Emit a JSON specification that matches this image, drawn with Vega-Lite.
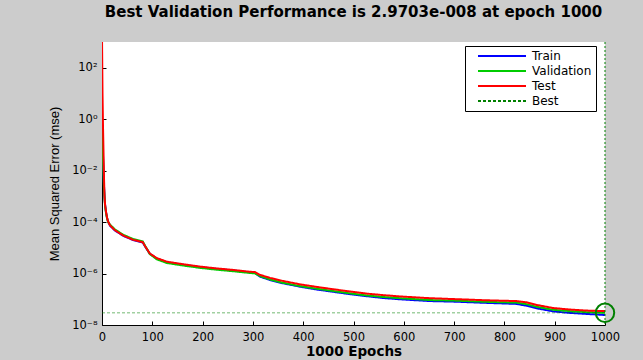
{
  "$schema": "https://vega.github.io/schema/vega-lite/v6.json",
  "autosize": {"type": "none"},
  "padding": {"left": 102, "top": 42, "right": 38, "bottom": 35},
  "width": 503,
  "height": 283,
  "background": "#cccccc",
  "title": {
    "text": "Best Validation Performance is 2.9703e-008 at epoch 1000",
    "font": "DejaVu Sans", "fontSize": 15, "fontWeight": "bold", "color": "#000000",
    "anchor": "middle", "baseline": "alphabetic", "offset": 10, "frame": "group"
  },
  "config": {
    "view": {"fill": "white", "stroke": null},
    "legend": {
      "title": null, "orient": "none", "legendX": 363, "legendY": 4,
      "fillColor": "white", "strokeColor": "black", "padding": 4,
      "symbolType": "M1,0L17,0", "symbolSize": 36, "symbolStrokeWidth": 2,
      "labelOffset": 51, "labelFont": "DejaVu Sans", "labelFontSize": 12,
      "labelColor": "black", "rowPadding": 3
    }
  },
  "datasets": {
    "curves": [
      {"epoch": 0, "mse": 1.12, "series": "Train"},
      {"epoch": 1, "mse": 0.158, "series": "Train"},
      {"epoch": 2, "mse": 0.0398, "series": "Train"},
      {"epoch": 3, "mse": 0.01, "series": "Train"},
      {"epoch": 4, "mse": 0.00251, "series": "Train"},
      {"epoch": 5, "mse": 0.001, "series": "Train"},
      {"epoch": 6, "mse": 5.01e-4, "series": "Train"},
      {"epoch": 8, "mse": 2.40e-4, "series": "Train"},
      {"epoch": 10, "mse": 1.48e-4, "series": "Train"},
      {"epoch": 12, "mse": 1.05e-4, "series": "Train"},
      {"epoch": 16, "mse": 7.24e-5, "series": "Train"},
      {"epoch": 26, "mse": 4.68e-5, "series": "Train"},
      {"epoch": 42, "mse": 2.95e-5, "series": "Train"},
      {"epoch": 62, "mse": 2.00e-5, "series": "Train"},
      {"epoch": 81, "mse": 1.62e-5, "series": "Train"},
      {"epoch": 86, "mse": 1.10e-5, "series": "Train"},
      {"epoch": 95, "mse": 5.89e-6, "series": "Train"},
      {"epoch": 109, "mse": 3.80e-6, "series": "Train"},
      {"epoch": 129, "mse": 2.75e-6, "series": "Train"},
      {"epoch": 162, "mse": 2.19e-6, "series": "Train"},
      {"epoch": 195, "mse": 1.78e-6, "series": "Train"},
      {"epoch": 228, "mse": 1.51e-6, "series": "Train"},
      {"epoch": 261, "mse": 1.32e-6, "series": "Train"},
      {"epoch": 294, "mse": 1.12e-6, "series": "Train"},
      {"epoch": 304, "mse": 1.07e-6, "series": "Train"},
      {"epoch": 314, "mse": 7.59e-7, "series": "Train"},
      {"epoch": 334, "mse": 5.62e-7, "series": "Train"},
      {"epoch": 360, "mse": 4.17e-7, "series": "Train"},
      {"epoch": 394, "mse": 3.09e-7, "series": "Train"},
      {"epoch": 427, "mse": 2.40e-7, "series": "Train"},
      {"epoch": 460, "mse": 1.95e-7, "series": "Train"},
      {"epoch": 493, "mse": 1.58e-7, "series": "Train"},
      {"epoch": 526, "mse": 1.32e-7, "series": "Train"},
      {"epoch": 559, "mse": 1.12e-7, "series": "Train"},
      {"epoch": 592, "mse": 1.00e-7, "series": "Train"},
      {"epoch": 652, "mse": 8.51e-8, "series": "Train"},
      {"epoch": 698, "mse": 8.13e-8, "series": "Train"},
      {"epoch": 765, "mse": 7.24e-8, "series": "Train"},
      {"epoch": 824, "mse": 6.61e-8, "series": "Train"},
      {"epoch": 844, "mse": 5.62e-8, "series": "Train"},
      {"epoch": 864, "mse": 4.47e-8, "series": "Train"},
      {"epoch": 897, "mse": 3.39e-8, "series": "Train"},
      {"epoch": 930, "mse": 2.95e-8, "series": "Train"},
      {"epoch": 964, "mse": 2.69e-8, "series": "Train"},
      {"epoch": 1000, "mse": 2.45e-8, "series": "Train"},

      {"epoch": 0, "mse": 1.0, "series": "Validation"},
      {"epoch": 1, "mse": 0.126, "series": "Validation"},
      {"epoch": 2, "mse": 0.0316, "series": "Validation"},
      {"epoch": 3, "mse": 0.00794, "series": "Validation"},
      {"epoch": 4, "mse": 0.002, "series": "Validation"},
      {"epoch": 5, "mse": 8.91e-4, "series": "Validation"},
      {"epoch": 6, "mse": 4.47e-4, "series": "Validation"},
      {"epoch": 8, "mse": 2.24e-4, "series": "Validation"},
      {"epoch": 10, "mse": 1.41e-4, "series": "Validation"},
      {"epoch": 12, "mse": 1.0e-4, "series": "Validation"},
      {"epoch": 16, "mse": 7.94e-5, "series": "Validation"},
      {"epoch": 26, "mse": 5.13e-5, "series": "Validation"},
      {"epoch": 42, "mse": 3.24e-5, "series": "Validation"},
      {"epoch": 62, "mse": 2.19e-5, "series": "Validation"},
      {"epoch": 81, "mse": 1.78e-5, "series": "Validation"},
      {"epoch": 86, "mse": 1.17e-5, "series": "Validation"},
      {"epoch": 95, "mse": 5.75e-6, "series": "Validation"},
      {"epoch": 109, "mse": 3.55e-6, "series": "Validation"},
      {"epoch": 129, "mse": 2.57e-6, "series": "Validation"},
      {"epoch": 162, "mse": 2.04e-6, "series": "Validation"},
      {"epoch": 195, "mse": 1.66e-6, "series": "Validation"},
      {"epoch": 228, "mse": 1.41e-6, "series": "Validation"},
      {"epoch": 261, "mse": 1.23e-6, "series": "Validation"},
      {"epoch": 294, "mse": 1.05e-6, "series": "Validation"},
      {"epoch": 304, "mse": 1.02e-6, "series": "Validation"},
      {"epoch": 314, "mse": 7.94e-7, "series": "Validation"},
      {"epoch": 334, "mse": 5.89e-7, "series": "Validation"},
      {"epoch": 360, "mse": 4.37e-7, "series": "Validation"},
      {"epoch": 394, "mse": 3.24e-7, "series": "Validation"},
      {"epoch": 427, "mse": 2.57e-7, "series": "Validation"},
      {"epoch": 460, "mse": 2.09e-7, "series": "Validation"},
      {"epoch": 493, "mse": 1.70e-7, "series": "Validation"},
      {"epoch": 526, "mse": 1.41e-7, "series": "Validation"},
      {"epoch": 559, "mse": 1.23e-7, "series": "Validation"},
      {"epoch": 592, "mse": 1.10e-7, "series": "Validation"},
      {"epoch": 652, "mse": 9.33e-8, "series": "Validation"},
      {"epoch": 698, "mse": 8.91e-8, "series": "Validation"},
      {"epoch": 765, "mse": 7.94e-8, "series": "Validation"},
      {"epoch": 824, "mse": 7.41e-8, "series": "Validation"},
      {"epoch": 844, "mse": 6.46e-8, "series": "Validation"},
      {"epoch": 864, "mse": 5.13e-8, "series": "Validation"},
      {"epoch": 897, "mse": 3.89e-8, "series": "Validation"},
      {"epoch": 930, "mse": 3.47e-8, "series": "Validation"},
      {"epoch": 964, "mse": 3.16e-8, "series": "Validation"},
      {"epoch": 1000, "mse": 2.9703e-8, "series": "Validation"},

      {"epoch": 0, "mse": 1585, "series": "Test"},
      {"epoch": 1, "mse": 10, "series": "Test"},
      {"epoch": 2, "mse": 0.501, "series": "Test"},
      {"epoch": 3, "mse": 0.0501, "series": "Test"},
      {"epoch": 4, "mse": 0.00501, "series": "Test"},
      {"epoch": 5, "mse": 0.001, "series": "Test"},
      {"epoch": 6, "mse": 5.01e-4, "series": "Test"},
      {"epoch": 8, "mse": 2.51e-4, "series": "Test"},
      {"epoch": 10, "mse": 1.51e-4, "series": "Test"},
      {"epoch": 12, "mse": 1.07e-4, "series": "Test"},
      {"epoch": 16, "mse": 7.41e-5, "series": "Test"},
      {"epoch": 26, "mse": 4.79e-5, "series": "Test"},
      {"epoch": 42, "mse": 3.02e-5, "series": "Test"},
      {"epoch": 62, "mse": 2.04e-5, "series": "Test"},
      {"epoch": 81, "mse": 1.66e-5, "series": "Test"},
      {"epoch": 86, "mse": 1.12e-5, "series": "Test"},
      {"epoch": 95, "mse": 6.03e-6, "series": "Test"},
      {"epoch": 109, "mse": 3.98e-6, "series": "Test"},
      {"epoch": 129, "mse": 2.88e-6, "series": "Test"},
      {"epoch": 162, "mse": 2.29e-6, "series": "Test"},
      {"epoch": 195, "mse": 1.86e-6, "series": "Test"},
      {"epoch": 228, "mse": 1.58e-6, "series": "Test"},
      {"epoch": 261, "mse": 1.38e-6, "series": "Test"},
      {"epoch": 294, "mse": 1.17e-6, "series": "Test"},
      {"epoch": 304, "mse": 1.15e-6, "series": "Test"},
      {"epoch": 314, "mse": 8.91e-7, "series": "Test"},
      {"epoch": 334, "mse": 6.76e-7, "series": "Test"},
      {"epoch": 360, "mse": 5.13e-7, "series": "Test"},
      {"epoch": 394, "mse": 3.80e-7, "series": "Test"},
      {"epoch": 427, "mse": 3.02e-7, "series": "Test"},
      {"epoch": 460, "mse": 2.45e-7, "series": "Test"},
      {"epoch": 493, "mse": 2.00e-7, "series": "Test"},
      {"epoch": 526, "mse": 1.66e-7, "series": "Test"},
      {"epoch": 559, "mse": 1.45e-7, "series": "Test"},
      {"epoch": 592, "mse": 1.29e-7, "series": "Test"},
      {"epoch": 652, "mse": 1.10e-7, "series": "Test"},
      {"epoch": 698, "mse": 1.02e-7, "series": "Test"},
      {"epoch": 765, "mse": 9.12e-8, "series": "Test"},
      {"epoch": 824, "mse": 8.51e-8, "series": "Test"},
      {"epoch": 844, "mse": 7.59e-8, "series": "Test"},
      {"epoch": 864, "mse": 6.03e-8, "series": "Test"},
      {"epoch": 897, "mse": 4.57e-8, "series": "Test"},
      {"epoch": 930, "mse": 3.98e-8, "series": "Test"},
      {"epoch": 964, "mse": 3.63e-8, "series": "Test"},
      {"epoch": 1000, "mse": 3.47e-8, "series": "Test"}
    ],
    "best": [{"epoch": 1000, "mse": 2.9703e-8, "series": "Best"}]
  },
  "layer": [
    {
      "data": {"name": "curves"},
      "transform": [{"filter": "datum.series === 'Train'"}],
      "mark": {"type": "line", "strokeWidth": 2, "clip": true},
      "encoding": {
        "x": {"field": "epoch", "type": "quantitative", "scale": {"domain": [0, 1000], "nice": false, "zero": false},
          "axis": {"title": "1000 Epochs", "values": [0, 100, 200, 300, 400, 500, 600, 700, 800, 900, 1000], "format": "d", "grid": false, "tickSize": -4, "tickColor": "black", "domainColor": "black", "labelFont": "DejaVu Sans", "labelFontSize": 11.5, "labelColor": "black", "labelPadding": 10, "labelFlush": false, "labelOverlap": false, "titleFont": "DejaVu Sans", "titleFontSize": 13.5, "titleFontWeight": "bold", "titleColor": "black", "titleBaseline": "alphabetic", "titleY": 30}},
        "y": {"field": "mse", "type": "quantitative", "scale": {"type": "log", "domain": [1e-8, 1000], "nice": false},
          "axis": {"title": "Mean Squared Error  (mse)", "values": [1e-8, 1e-6, 1e-4, 0.01, 1, 100], "labelExpr": "round(log(datum.value)/LN10) == 2 ? '10²' : round(log(datum.value)/LN10) == 0 ? '10⁰' : round(log(datum.value)/LN10) == -2 ? '10⁻²' : round(log(datum.value)/LN10) == -4 ? '10⁻⁴' : round(log(datum.value)/LN10) == -6 ? '10⁻⁶' : '10⁻⁸'", "grid": false, "tickSize": -4, "tickColor": "black", "domainColor": "black", "labelFont": "DejaVu Sans", "labelFontSize": 11.5, "labelColor": "black", "labelPadding": 9, "labelOverlap": false, "titleFont": "Liberation Sans", "titleFontSize": 13, "titleFontWeight": "normal", "titleColor": "black", "titleBaseline": "middle", "titleX": -48}},
        "color": {"field": "series", "type": "nominal", "scale": {"domain": ["Train", "Validation", "Test", "Best"], "range": ["#0000ff", "#00cc00", "#ff0000", "#008000"]}},
        "strokeDash": {"field": "series", "type": "nominal", "scale": {"domain": ["Train", "Validation", "Test", "Best"], "range": [[1, 0], [1, 0], [1, 0], [3, 2]]}}
      }
    },
    {
      "data": {"name": "curves"},
      "transform": [{"filter": "datum.series === 'Validation'"}],
      "mark": {"type": "line", "strokeWidth": 2, "clip": true},
      "encoding": {
        "x": {"field": "epoch", "type": "quantitative", "title": "1000 Epochs"},
        "y": {"field": "mse", "type": "quantitative", "title": "Mean Squared Error  (mse)"},
        "color": {"field": "series", "type": "nominal"},
        "strokeDash": {"field": "series", "type": "nominal"}
      }
    },
    {
      "data": {"name": "curves"},
      "transform": [{"filter": "datum.series === 'Test'"}],
      "mark": {"type": "line", "strokeWidth": 2, "clip": true},
      "encoding": {
        "x": {"field": "epoch", "type": "quantitative", "title": "1000 Epochs"},
        "y": {"field": "mse", "type": "quantitative", "title": "Mean Squared Error  (mse)"},
        "color": {"field": "series", "type": "nominal"},
        "strokeDash": {"field": "series", "type": "nominal"}
      }
    },
    {
      "data": {"name": "best"},
      "mark": {"type": "rule", "strokeWidth": 1, "strokeOpacity": 0.55},
      "encoding": {
        "y": {"field": "mse", "type": "quantitative", "title": "Mean Squared Error  (mse)"},
        "color": {"field": "series", "type": "nominal"},
        "strokeDash": {"field": "series", "type": "nominal"}
      }
    },
    {
      "data": {"name": "best"},
      "mark": {"type": "rule", "strokeWidth": 1, "strokeDash": [2, 2]},
      "encoding": {
        "x": {"field": "epoch", "type": "quantitative", "title": "1000 Epochs"},
        "color": {"field": "series", "type": "nominal"}
      }
    },
    {
      "data": {"name": "best"},
      "mark": {"type": "point", "shape": "circle", "filled": false, "stroke": "#008000", "strokeWidth": 2, "size": 340, "opacity": 1, "clip": false},
      "encoding": {
        "x": {"field": "epoch", "type": "quantitative", "title": "1000 Epochs"},
        "y": {"field": "mse", "type": "quantitative", "title": "Mean Squared Error  (mse)"}
      }
    }
  ]
}
